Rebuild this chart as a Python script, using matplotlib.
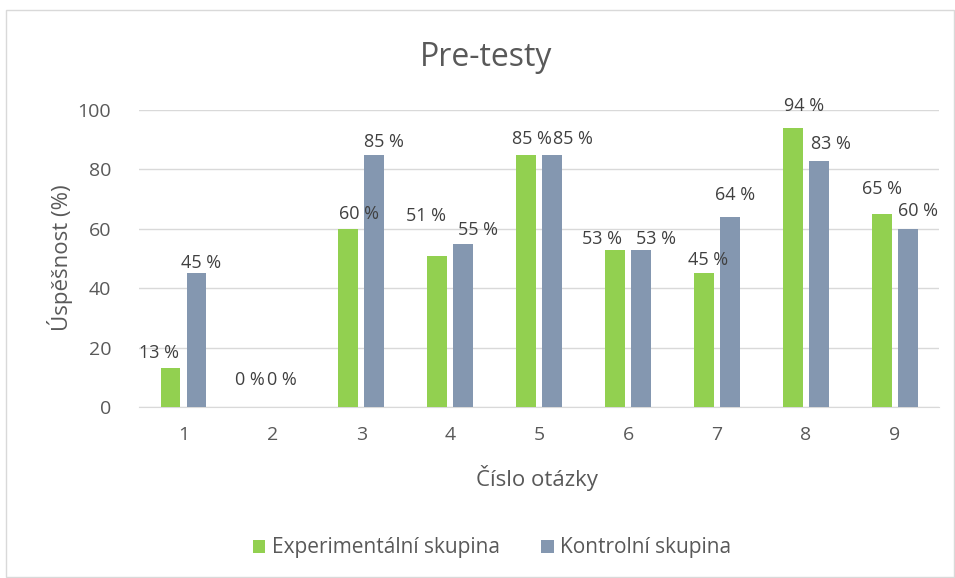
#Pre-test results bar chart
import matplotlib.pyplot as plt
import numpy as np
from matplotlib.patches import Rectangle

plt.rcParams['font.family'] = ['Open Sans', 'DejaVu Sans']

#Question numbers and success rates of both groups
questions = ["1", "2", "3", "4", "5", "6", "7", "8", "9"]
experimental = [13, 0, 60, 51, 85, 53, 45, 94, 65]
control = [45, 0, 85, 55, 85, 53, 64, 83, 60]

#Manual nudges of the value labels (pixels), as they were placed in the original
exp_dx = [-11, -9, 11, -11, 6, -13, 4, 11, 0]
ctl_dx = [5, -3, 10, 15, 21, 15, 5, 12, 10]
exp_dy = [15, 27, 15, 40, 16, 11, 13, 22, 25]
ctl_dy = [10, 27, 13, 14, 16, 11, 22, 17, 18]

text_color = "#595959"
green = "#92D050"
blue = "#8497B0"

fig = plt.figure(figsize=(9.55, 5.78), dpi=100)
ax = fig.add_axes([0.1455, 0.2958, 0.838, 0.5138])

#Light gray frame around the whole chart
fig.patches.append(Rectangle((6/955, 1/578), 948/955, 567/578, transform=fig.transFigure,
                             fill=False, edgecolor="#D9D9D9", linewidth=1))

x = np.arange(len(questions))
w = 0.22
bars1 = ax.bar(x - 0.146, experimental, w, color=green, label="Experimentální skupina", zorder=3)
bars2 = ax.bar(x + 0.146, control, w, color=blue, label="Kontrolní skupina", zorder=3)

#Value labels above each bar
px = 72/100
for bars, dxs, dys in ((bars1, exp_dx, exp_dy), (bars2, ctl_dx, ctl_dy)):
    for b, dx, dy in zip(bars, dxs, dys):
        ax.annotate(str(int(b.get_height())) + " %", (b.get_x() + b.get_width()/2, b.get_height()),
                    xytext=(dx*px, dy*px), textcoords="offset points", ha="center", va="center",
                    fontsize=13, color="#404040", zorder=4)

ax.set_xlim(-0.5, len(questions) - 0.5)
ax.set_ylim(0, 100)
ax.set_yticks(np.arange(0, 101, 20))
ax.set_xticks(x)
ax.set_xticklabels(questions)
ax.grid(axis="y", color="#D9D9D9", linewidth=1, zorder=0)
for s in ["top", "right", "left"]:
    ax.spines[s].set_visible(False)
ax.spines["bottom"].set_color("#D9D9D9")
ax.tick_params(length=0, labelsize=14, colors=text_color)
ax.tick_params(axis="x", pad=14)
ax.tick_params(axis="y", pad=20)

fig.text(486/955, 1 - 57/578, "Pre-testy", fontsize=23, color=text_color, ha="center", va="center")
fig.text(537/955, 1 - 478/578, "Číslo otázky", fontsize=16, color=text_color, ha="center", va="center")
fig.text(60/955, 1 - 258/578, "Úspěšnost (%)", fontsize=16, color=text_color, ha="center", va="center",
         rotation=90)

fig.legend(loc="center", bbox_to_anchor=(492/955, 1 - 548/578), ncol=2, frameon=False,
           fontsize=15, labelcolor=text_color, handlelength=0.6, handleheight=0.6,
           handletextpad=0.3, columnspacing=2.0)

fig.savefig("out.png", dpi=100)
